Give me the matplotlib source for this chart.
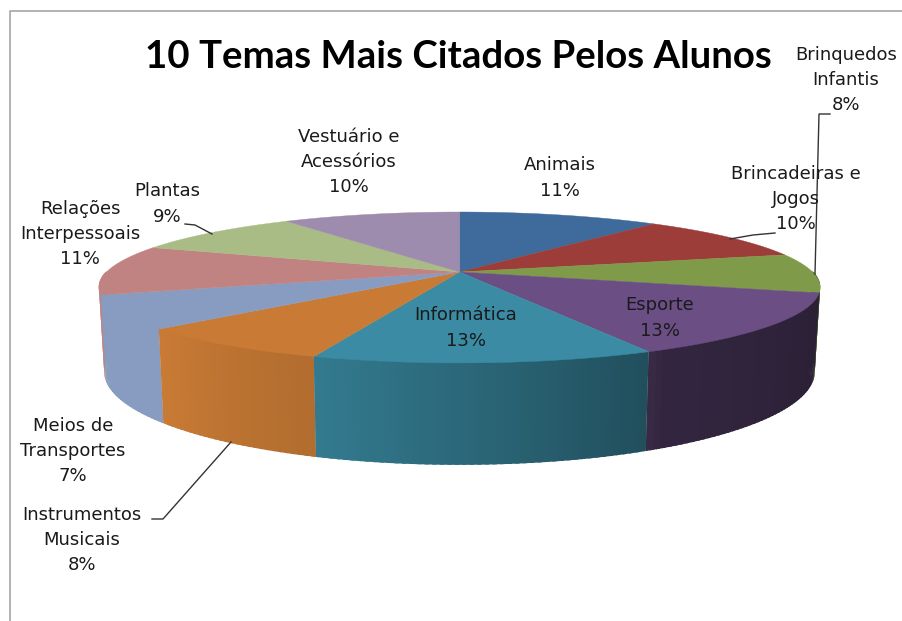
import numpy as np
import matplotlib
matplotlib.use('Agg')
import matplotlib.pyplot as plt

categories = ['Animais', 'Brincadeiras e\nJogos', 'Brinquedos\nInfantis', 'Esporte', 'Informática',
              'Instrumentos\nMusicais', 'Meios de\nTransportes', 'Relações\nInterpessoais', 'Plantas',
              'Vestuário e\nAcessórios']
values = [11.0, 10.0, 8.4, 13.4, 12.6, 7.7, 7.1, 10.7, 9.4, 9.7]
colors = ['#3F6A9C', '#9C3D3A', '#7F9A48', '#6A4E84', '#3A8BA3',
          '#C97B35', '#879CC0', '#C08381', '#AABC85', '#9E8CAE']
label_pos = [(560, 178), (796, 199), (846, 80), (660, 318), (466, 328),
             (82, 540), (73, 451), (80, 234), (167, 204), (349, 162)]
leaders = [[(730, 239), (753, 235), (775, 233)],
           [(815, 274), (819, 114), (830, 114)],
           [(185, 224), (195, 225), (212, 234)],
           [(152, 519), (163, 519), (231, 442)]]

# pie geometry in pixels, perspective projection of a flat disc
cx, cy = 459.5, 272
A, B, k = 353, 72.3, 0.205
depth = 81


def project(theta, bottom=False):
    X = np.sin(np.radians(theta))
    Y = np.cos(np.radians(theta))
    s = 1 / (1 + k * Y)
    if bottom:
        return cx + 0.985 * A * X * s, cy - B * Y * s + depth * s
    return cx + A * X * s, cy - B * Y * s


def shade(color, f):
    rgb = np.array(matplotlib.colors.to_rgb(color))
    return tuple(rgb * f)


def wall_strip(a, b, color):
    f = np.interp((a + b) / 2, [106, 152, 155, 199, 227, 260], [0.40, 0.48, 0.57, 0.88, 1.0, 1.0])
    th = np.linspace(a, b, 4)
    xt, yt = project(th)
    xb, yb = project(th[::-1], True)
    # top edge pushed up a little so it hides under the top face
    ax.fill(np.r_[xt, xb], np.r_[yt - 1, yb], facecolor=shade(color, f), edgecolor='none', zorder=2)


fig = plt.figure(figsize=(9.02, 6.21), dpi=100)
ax = fig.add_axes([0, 0, 1, 1])
ax.set_xlim(0, 902)
ax.set_ylim(621, 0)
ax.axis('off')

# chart border, open on the right and bottom
ax.plot([9.5, 9.5, 902], [621, 11, 11], color='#A6A6A6', lw=1.2)

edges = np.concatenate([[0], np.cumsum(values)]) / np.sum(values) * 360

# side wall, painted back to front from both sides with overlapping strips
wall = []
for i in range(len(values)):
    t0, t1 = max(edges[i], 90), min(edges[i + 1], 270)
    if t1 > t0:
        wall.append((i, t0, t1))

for i, t0, t1 in wall:
    if t1 <= 180 or t0 < 180 < t1:
        stop = min(t1, 180)
        for a in np.arange(t0, stop, 1.0):
            wall_strip(a, min(a + 1.6, t1), colors[i])
for i, t0, t1 in wall[::-1]:
    if t0 >= 180:
        for a in np.arange(t1, t0, -1.0):
            wall_strip(max(a - 1.6, t0), a, colors[i])
for i, t0, t1 in wall:
    if t0 < 180 < t1:
        for a in np.arange(180, t1, 1.0):
            wall_strip(a, min(a + 1.6, t1), colors[i])

# top face
for i in range(len(values)):
    th = np.linspace(edges[i], edges[i + 1], 80)
    xs, ys = project(th)
    ax.fill(np.r_[cx, xs], np.r_[cy, ys], facecolor=colors[i], edgecolor=colors[i], lw=0.3, zorder=3)

for pts in leaders:
    ax.plot([p[0] for p in pts], [p[1] for p in pts], color='#333333', lw=1.0, zorder=4)

for name, v, pos in zip(categories, values, label_pos):
    ax.text(pos[0], pos[1], f'{name}\n{round(v)}%', ha='center', va='center', fontsize=13,
            family='DejaVu Sans', color='#1A1A1A', linespacing=1.5, zorder=5)

ax.text(458, 57, '10 Temas Mais Citados Pelos Alunos', ha='center', va='center',
        fontsize=27.6, family='Lato', fontweight='bold', color='black', zorder=5)

fig.savefig('out.png', dpi=100)
